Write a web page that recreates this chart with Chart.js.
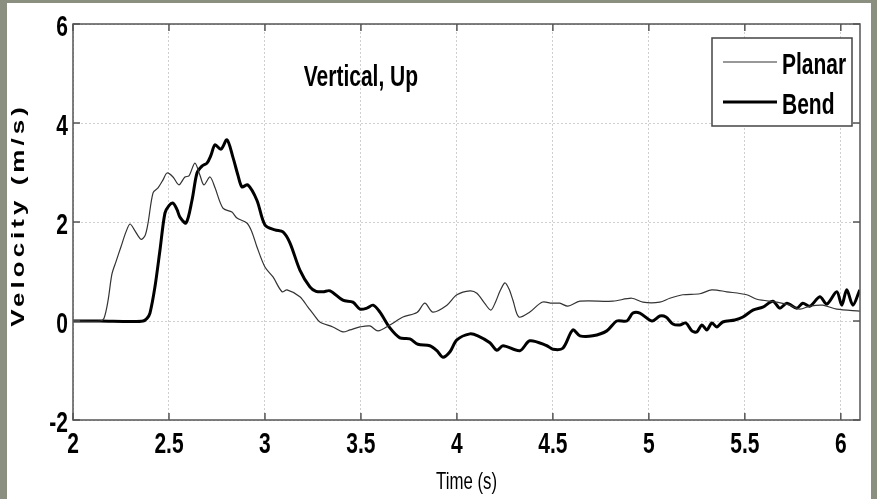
<!DOCTYPE html>
<html>
<head>
<meta charset="utf-8">
<script src="https://cdn.jsdelivr.net/npm/chart.js@4.4.1/dist/chart.umd.min.js"></script>
<style>
  html, body { margin: 0; padding: 0; background: #8b8f80; }
  canvas { display: block; }
</style>
</head>
<body>
<canvas id="velocityChart" width="877" height="499"></canvas>
<script>
// Velocity traces (time in s, velocity in m/s)
const planarTime = [2.000, 2.141, 2.161, 2.182, 2.203, 2.224, 2.250, 2.276, 2.297, 2.323, 2.354, 2.375, 2.391, 2.417, 2.443, 2.469, 2.490, 2.521, 2.552, 2.583, 2.604, 2.635, 2.661, 2.682, 2.714, 2.740, 2.781, 2.828, 2.854, 2.906, 2.932, 2.958, 3.000, 3.042, 3.089, 3.115, 3.182, 3.224, 3.260, 3.286, 3.354, 3.406, 3.443, 3.495, 3.547, 3.589, 3.651, 3.719, 3.792, 3.833, 3.875, 3.948, 4.000, 4.068, 4.104, 4.146, 4.177, 4.203, 4.224, 4.250, 4.271, 4.292, 4.323, 4.380, 4.443, 4.495, 4.536, 4.578, 4.641, 4.813, 4.911, 4.969, 5.057, 5.109, 5.177, 5.266, 5.328, 5.406, 5.510, 5.563, 5.667, 5.734, 5.786, 5.839, 5.906, 5.979, 6.099];
const planarVel = [0, 0, 0.05, 0.4, 0.95, 1.2, 1.5, 1.8, 1.96, 1.82, 1.65, 1.72, 1.98, 2.59, 2.69, 2.85, 2.99, 2.91, 2.75, 2.91, 2.93, 3.19, 2.95, 2.75, 2.91, 2.69, 2.28, 2.2, 2.08, 1.98, 1.8, 1.5, 1.09, 0.89, 0.59, 0.63, 0.49, 0.28, 0.1, -0.02, -0.12, -0.22, -0.18, -0.12, -0.10, -0.2, -0.08, 0.08, 0.17, 0.36, 0.18, 0.32, 0.53, 0.61, 0.56, 0.35, 0.22, 0.4, 0.6, 0.77, 0.65, 0.42, 0.08, 0.18, 0.38, 0.36, 0.36, 0.3, 0.4, 0.4, 0.46, 0.38, 0.38, 0.46, 0.53, 0.55, 0.63, 0.59, 0.53, 0.44, 0.38, 0.32, 0.24, 0.3, 0.32, 0.24, 0.2];

const bendTime = [2.000, 2.141, 2.297, 2.365, 2.385, 2.401, 2.427, 2.453, 2.479, 2.500, 2.521, 2.542, 2.557, 2.589, 2.620, 2.646, 2.672, 2.698, 2.719, 2.740, 2.771, 2.802, 2.833, 2.859, 2.880, 2.911, 2.958, 3.000, 3.052, 3.094, 3.130, 3.182, 3.234, 3.266, 3.302, 3.339, 3.406, 3.458, 3.495, 3.531, 3.563, 3.599, 3.651, 3.703, 3.755, 3.797, 3.859, 3.896, 3.927, 3.964, 4.000, 4.068, 4.109, 4.172, 4.208, 4.240, 4.328, 4.380, 4.469, 4.500, 4.552, 4.604, 4.641, 4.708, 4.781, 4.833, 4.885, 4.917, 4.953, 5.016, 5.057, 5.089, 5.125, 5.161, 5.193, 5.224, 5.250, 5.276, 5.302, 5.328, 5.354, 5.385, 5.448, 5.490, 5.542, 5.594, 5.646, 5.682, 5.719, 5.771, 5.802, 5.839, 5.891, 5.927, 5.979, 6.005, 6.031, 6.063, 6.099];
const bendVel = [0, 0, -0.01, 0, 0.05, 0.16, 0.69, 1.43, 2.18, 2.33, 2.38, 2.25, 2.1, 1.98, 2.44, 2.99, 3.13, 3.19, 3.35, 3.56, 3.47, 3.66, 3.31, 2.95, 2.71, 2.75, 2.44, 1.94, 1.84, 1.8, 1.58, 1.03, 0.69, 0.6, 0.59, 0.61, 0.42, 0.38, 0.24, 0.26, 0.32, 0.18, -0.14, -0.34, -0.36, -0.47, -0.5, -0.6, -0.73, -0.62, -0.38, -0.26, -0.3, -0.44, -0.59, -0.5, -0.6, -0.4, -0.5, -0.57, -0.55, -0.18, -0.3, -0.3, -0.2, 0, 0, 0.16, 0.16, 0, 0.1, 0.08, -0.06, -0.08, -0.04, -0.2, -0.22, -0.08, -0.18, -0.04, -0.12, -0.02, 0.02, 0.08, 0.22, 0.28, 0.4, 0.26, 0.36, 0.26, 0.36, 0.3, 0.49, 0.34, 0.59, 0.32, 0.63, 0.32, 0.63];

const xTicks = [2, 2.5, 3, 3.5, 4, 4.5, 5, 5.5, 6];
const yTicks = [-2, 0, 2, 4, 6];

const annotationText = 'Vertical, Up';
const annotationAt = { x: 3.5, y: 4.75 };

const FONT = "'Liberation Sans', Arial, sans-serif";
const SQUEEZE = 0.7;   // the original figure uses a condensed face

function toPoints(times, values) {
    return times.map((t, i) => ({ x: t, y: values[i] }));
}

// draw text horizontally condensed
function narrowText(ctx, text, x, y, font, align) {
    ctx.save();
    ctx.font = font;
    ctx.textAlign = align;
    ctx.textBaseline = 'alphabetic';
    ctx.fillStyle = '#000000';
    ctx.translate(x, y);
    ctx.scale(SQUEEZE, 1);
    ctx.fillText(text, 0, 0);
    ctx.restore();
}

/**
 * Page background: grey surround with a white panel
 */
const panelBackground = {
    id: 'panelBackground',
    beforeDraw(chart) {
        const ctx = chart.ctx;
        ctx.save();
        ctx.fillStyle = '#8b8f80';
        ctx.fillRect(0, 0, chart.width, chart.height);
        ctx.fillStyle = '#ffffff';
        ctx.fillRect(7, 3, 864, chart.height - 3);
        ctx.restore();
    }
};

/**
 * MATLAB style box: frame on all sides, ticks pointing inwards,
 * condensed labels, text annotation and boxed legend
 */
const matlabBox = {
    id: 'matlabBox',
    afterDraw(chart) {
        const ctx = chart.ctx;
        const area = chart.chartArea;
        const xs = chart.scales.x;
        const ys = chart.scales.y;
        ctx.save();

        // frame
        ctx.strokeStyle = '#555555';
        ctx.lineWidth = 1.5;
        ctx.strokeRect(area.left, area.top, area.right - area.left, area.bottom - area.top);

        // inward ticks
        const tickLen = 7;
        ctx.beginPath();
        xTicks.forEach(v => {
            const px = xs.getPixelForValue(v);
            ctx.moveTo(px, area.bottom); ctx.lineTo(px, area.bottom - tickLen);
            ctx.moveTo(px, area.top); ctx.lineTo(px, area.top + tickLen);
        });
        yTicks.forEach(v => {
            const py = ys.getPixelForValue(v);
            ctx.moveTo(area.left, py); ctx.lineTo(area.left + tickLen, py);
            ctx.moveTo(area.right, py); ctx.lineTo(area.right - tickLen, py);
        });
        ctx.stroke();

        // tick labels
        const tickFont = 'bold 30px ' + FONT;
        xTicks.forEach(v => narrowText(ctx, String(v), xs.getPixelForValue(v), area.bottom + 33, tickFont, 'center'));
        yTicks.forEach(v => narrowText(ctx, String(v), area.left - 5, ys.getPixelForValue(v) + 12, tickFont, 'right'));

        // axis titles
        narrowText(ctx, 'Time (s)', (area.left + area.right) / 2, 489, '24px ' + FONT, 'center');

        ctx.save();
        ctx.fillStyle = '#000000';
        ctx.font = 'bold 26px ' + FONT;
        ctx.letterSpacing = '4px';
        ctx.textAlign = 'center';
        ctx.textBaseline = 'middle';
        ctx.translate(19, 217);
        ctx.rotate(-Math.PI / 2);
        ctx.scale(1, SQUEEZE);
        ctx.fillText('Velocity (m/s)', 2, 0);
        ctx.restore();

        // annotation in data coordinates
        narrowText(ctx, annotationText, xs.getPixelForValue(annotationAt.x), ys.getPixelForValue(annotationAt.y), 'bold 30px ' + FONT, 'center');

        // legend box
        const box = { left: 712, top: 38, width: 140, height: 88 };
        ctx.fillStyle = '#ffffff';
        ctx.fillRect(box.left, box.top, box.width, box.height);
        ctx.strokeStyle = '#444444';
        ctx.lineWidth = 1.5;
        ctx.strokeRect(box.left, box.top, box.width, box.height);
        chart.data.datasets.forEach((ds, i) => {
            const rowY = box.top + 24 + i * 40;
            ctx.strokeStyle = ds.borderColor;
            ctx.lineWidth = ds.borderWidth;
            ctx.beginPath();
            ctx.moveTo(box.left + 11, rowY);
            ctx.lineTo(box.left + 65, rowY);
            ctx.stroke();
            narrowText(ctx, ds.label, box.left + 70, rowY + 12, 'bold 30px ' + FONT, 'left');
        });

        ctx.restore();
    }
};

const ctx = document.getElementById('velocityChart').getContext('2d');
const chart = new Chart(ctx, {
    type: 'line',
    data: {
        datasets: [{
            label: 'Planar',
            data: toPoints(planarTime, planarVel),
            borderColor: '#333333',
            borderWidth: 1.2,
            pointRadius: 0,
            tension: 0.3,
            fill: false
        }, {
            label: 'Bend',
            data: toPoints(bendTime, bendVel),
            borderColor: '#000000',
            borderWidth: 3,
            pointRadius: 0,
            tension: 0.3,
            fill: false
        }]
    },
    options: {
        responsive: false,
        animation: false,
        devicePixelRatio: 1,
        layout: {
            padding: { top: 24, right: 17, bottom: 0, left: 0 }
        },
        plugins: {
            legend: { display: false },
            tooltip: { enabled: false }
        },
        scales: {
            x: {
                type: 'linear',
                min: 2,
                max: 6.1,
                afterBuildTicks: scale => { scale.ticks = xTicks.map(v => ({ value: v })); },
                afterFit: scale => { scale.height = 79; },
                border: { display: false, dash: [2, 2] },
                grid: { color: '#cfcfcf', lineWidth: 1, drawTicks: false },
                ticks: { display: false }
            },
            y: {
                min: -2,
                max: 6,
                afterBuildTicks: scale => { scale.ticks = yTicks.map(v => ({ value: v })); },
                afterFit: scale => { scale.width = 73; },
                border: { display: false, dash: [2, 2] },
                grid: { color: '#cfcfcf', lineWidth: 1, drawTicks: false },
                ticks: { display: false }
            }
        }
    },
    plugins: [panelBackground, matlabBox]
});
</script>
</body>
</html>
